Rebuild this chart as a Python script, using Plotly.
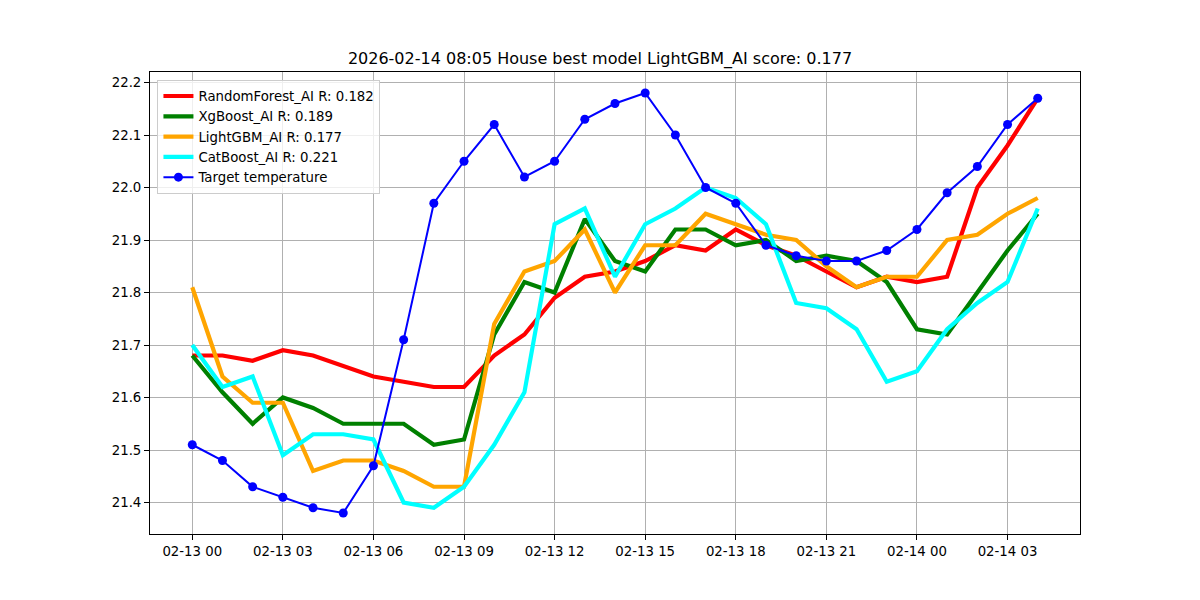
import plotly.graph_objects as go
import pandas as pd

times = pd.date_range("2026-02-13 00:00", periods=29, freq="h")

target = [21.51, 21.48, 21.43, 21.41, 21.39, 21.38, 21.47, 21.71, 21.97, 22.05,
          22.12, 22.02, 22.05, 22.13, 22.16, 22.18, 22.10, 22.00, 21.97, 21.89,
          21.87, 21.86, 21.86, 21.88, 21.92, 21.99, 22.04, 22.12, 22.17]
random_forest = [21.68, 21.68, 21.67, 21.69, 21.68, 21.66, 21.64, 21.63, 21.62, 21.62,
                 21.68, 21.72, 21.79, 21.83, 21.84, 21.86, 21.89, 21.88, 21.92, 21.89,
                 21.87, 21.84, 21.81, 21.83, 21.82, 21.83, 22.00, 22.08, 22.17]
xgboost = [21.68, 21.61, 21.55, 21.60, 21.58, 21.55, 21.55, 21.55, 21.51, 21.52,
           21.72, 21.82, 21.80, 21.94, 21.86, 21.84, 21.92, 21.92, 21.89, 21.90,
           21.86, 21.87, 21.86, 21.82, 21.73, 21.72, 21.80, 21.88, 21.95]
lightgbm = [21.81, 21.64, 21.59, 21.59, 21.46, 21.48, 21.48, 21.46, 21.43, 21.43,
            21.74, 21.84, 21.86, 21.92, 21.80, 21.89, 21.89, 21.95, 21.93, 21.91,
            21.90, 21.85, 21.81, 21.83, 21.83, 21.90, 21.91, 21.95, 21.98]
catboost = [21.70, 21.62, 21.64, 21.49, 21.53, 21.53, 21.52, 21.40, 21.39, 21.43,
            21.51, 21.61, 21.93, 21.96, 21.83, 21.93, 21.96, 22.00, 21.98, 21.93,
            21.78, 21.77, 21.73, 21.63, 21.65, 21.73, 21.78, 21.82, 21.96]

series = [
    ("RandomForest_AI R: 0.182", random_forest, "red"),
    ("XgBoost_AI R: 0.189", xgboost, "green"),
    ("LightGBM_AI R: 0.177", lightgbm, "orange"),
    ("CatBoost_AI R: 0.221", catboost, "cyan"),
]

title = "2026-02-14 08:05 House best model LightGBM_AI score: 0.177"
yticks = [21.4, 21.5, 21.6, 21.7, 21.8, 21.9, 22.0, 22.1, 22.2]
xticks = pd.date_range("2026-02-13 00:00", "2026-02-14 03:00", freq="3h")

fig = go.Figure()
for name, vals, color in series:
    fig.add_trace(go.Scatter(x=times, y=vals, mode="lines", name=name,
                             line=dict(color=color, width=4.2)))
fig.add_trace(go.Scatter(x=times, y=target, mode="lines+markers", name="Target temperature",
                         line=dict(color="blue", width=2),
                         marker=dict(color="blue", size=9)))

span = times[-1] - times[0]
xr = [times[0] - span * 0.05, times[-1] + span * 0.05]
ymin, ymax = 21.38, 22.18
pad = (ymax - ymin) * 0.05

axis_common = dict(showgrid=True, gridcolor="#b0b0b0", gridwidth=1,
                   showline=True, linecolor="black", linewidth=1, mirror=True,
                   ticks="outside", ticklen=5, tickcolor="black",
                   tickfont=dict(size=13.3, color="black"), zeroline=False)

fig.update_layout(
    width=1200, height=600,
    margin=dict(l=150, r=120, t=72, b=66),
    paper_bgcolor="white", plot_bgcolor="white",
    font=dict(family="DejaVu Sans", size=13.3, color="black"),
    title=dict(text=title, x=0.5, xanchor="center", y=1 - 58 / 600, yanchor="middle",
               font=dict(size=16, color="black")),
    xaxis=dict(range=xr, tickvals=list(xticks),
               ticktext=[t.strftime("%m-%d %H") for t in xticks], **axis_common),
    yaxis=dict(range=[ymin - pad, ymax + pad], tickvals=yticks,
               ticktext=[f"{v:.1f}" for v in yticks], **axis_common),
    legend=dict(x=0.008, y=0.983, xanchor="left", yanchor="top",
                bgcolor="rgba(255,255,255,0.8)", bordercolor="#cccccc", borderwidth=1,
                font=dict(size=13.3), tracegroupgap=0, itemwidth=30),
    showlegend=True,
)

fig.write_html("out.html")
